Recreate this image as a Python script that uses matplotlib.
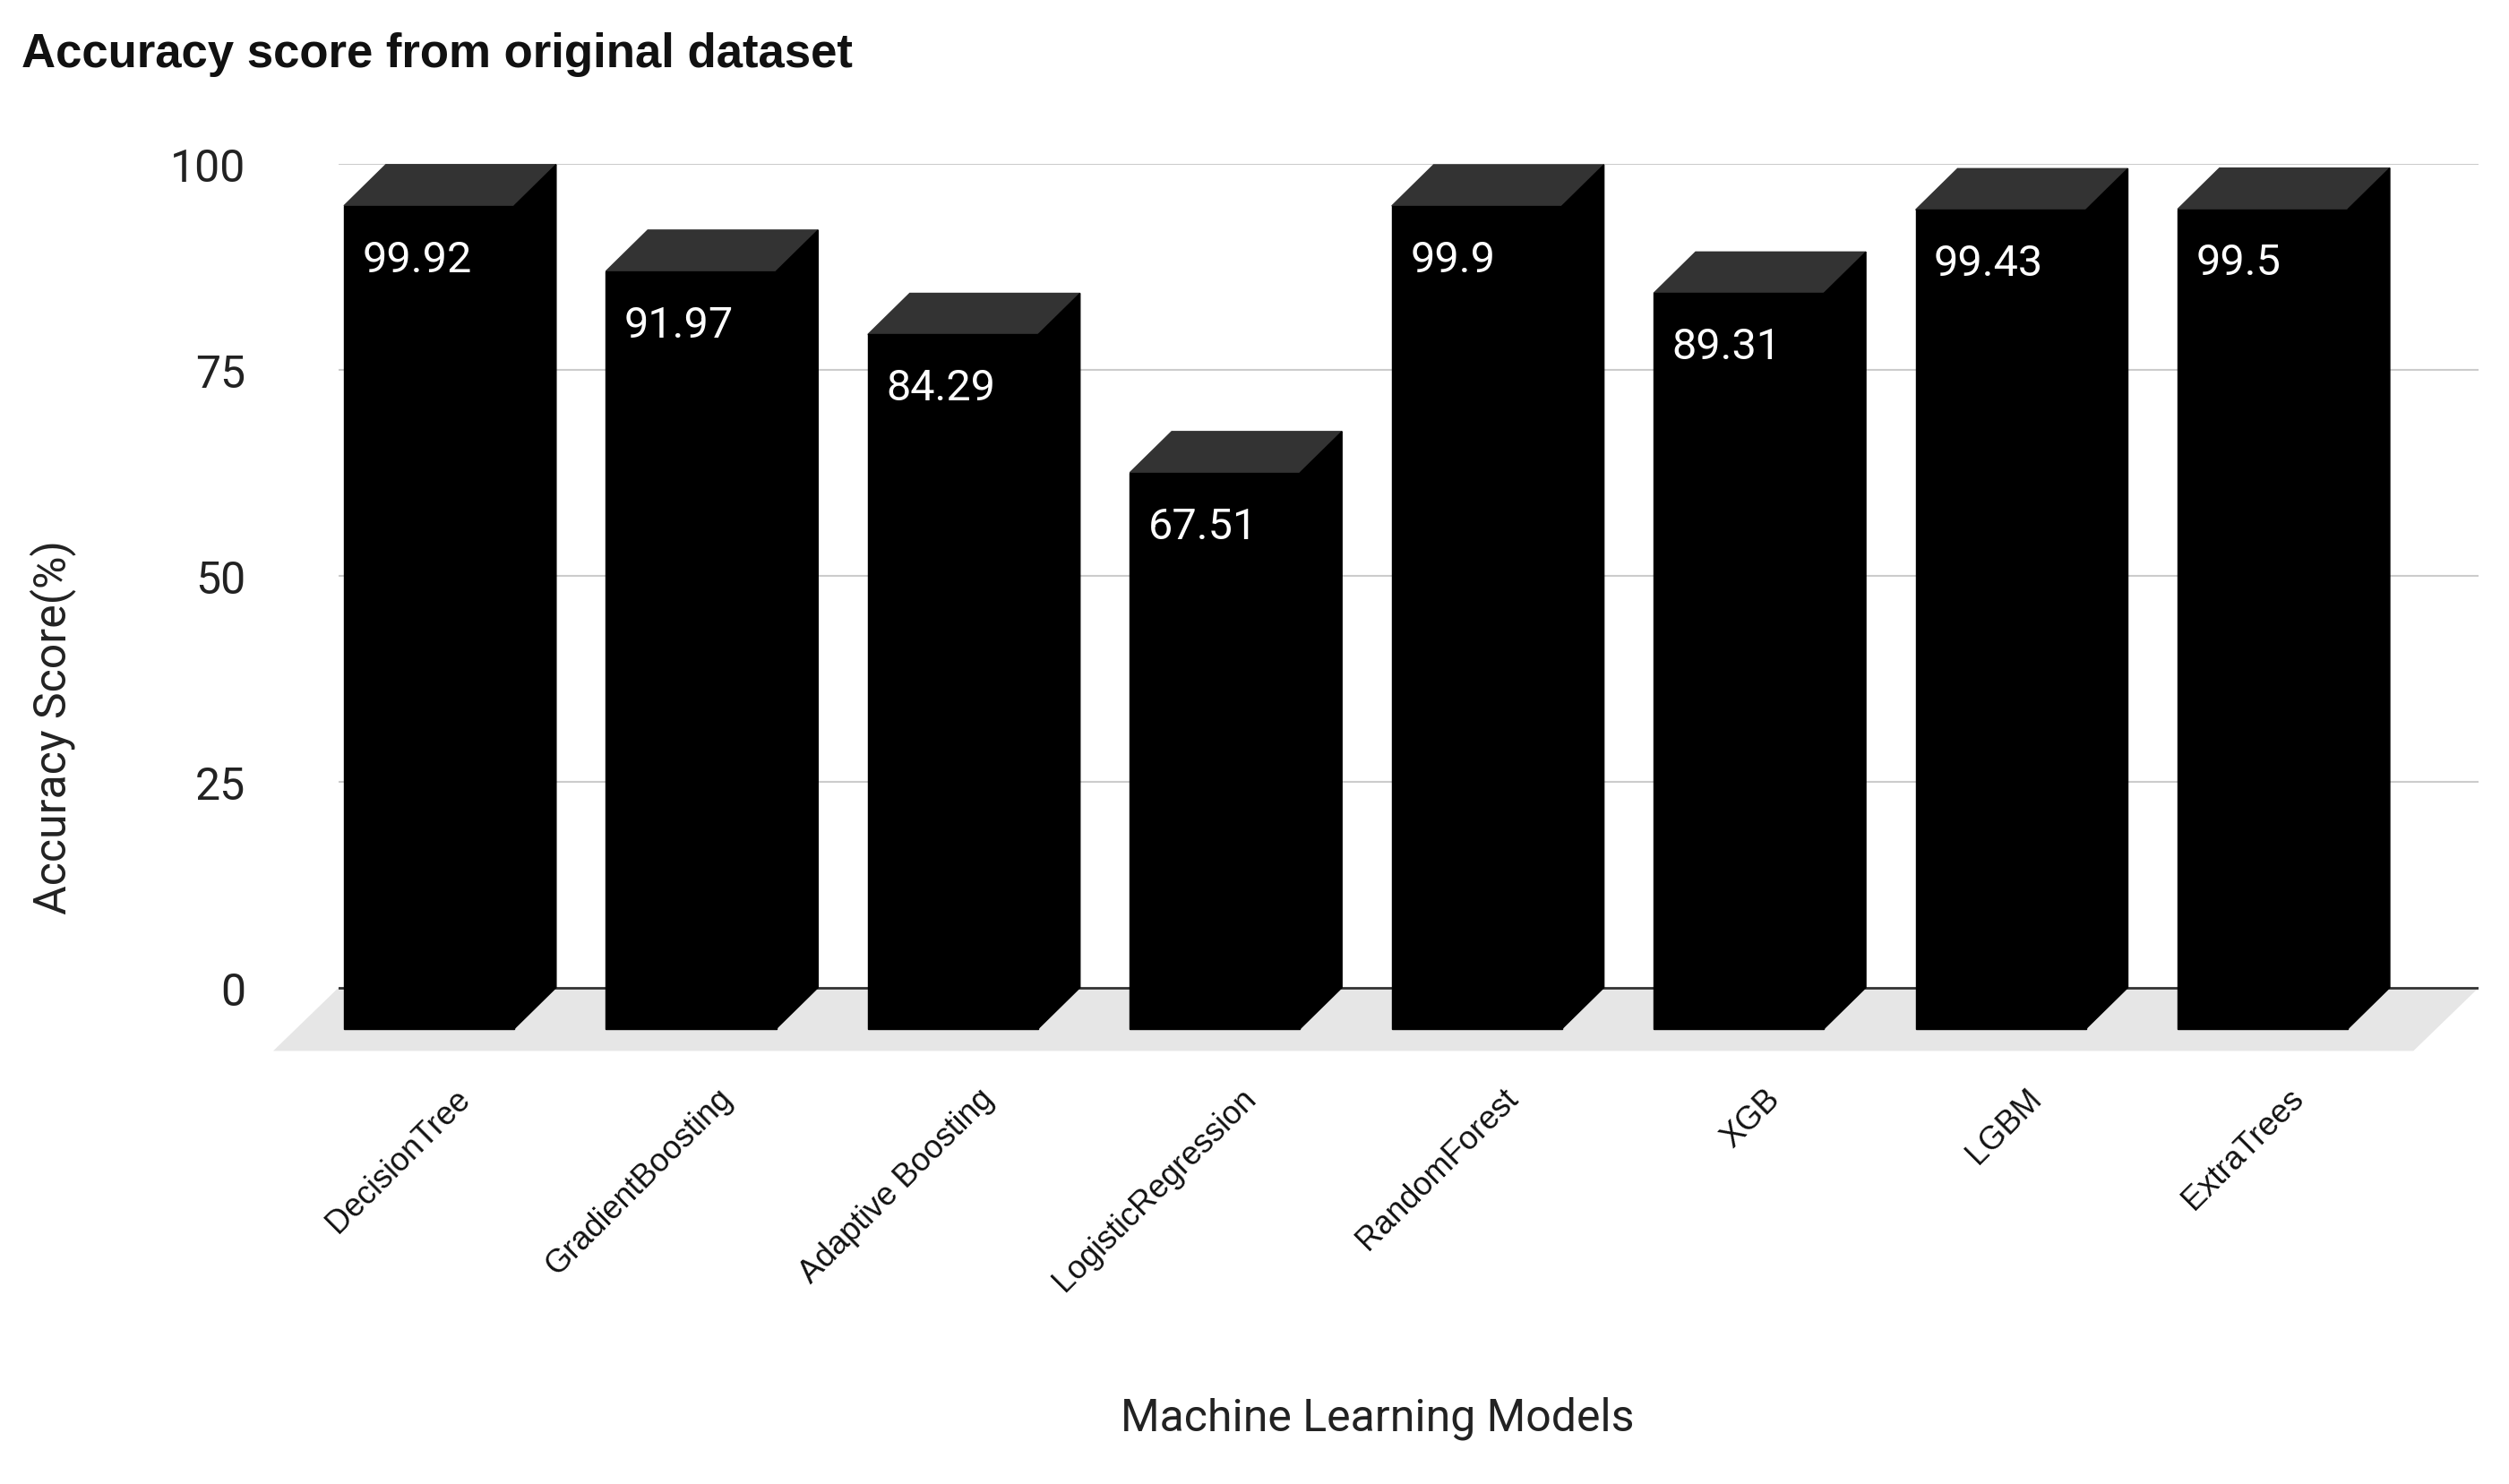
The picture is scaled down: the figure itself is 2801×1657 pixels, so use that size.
import matplotlib
matplotlib.use("Agg")
import matplotlib.pyplot as plt
from matplotlib.patches import Polygon, Rectangle

models = ["DecisionTree", "GradientBoosting", "Adaptive Boosting", "LogisticRegression",
          "RandomForest", "XGB", "LGBM", "ExtraTrees"]
scores = [99.92, 91.97, 84.29, 67.51, 99.9, 89.31, 99.43, 99.5]
labels = ["99.92", "91.97", "84.29", "67.51", "99.9", "89.31", "99.43", "99.5"]
yticks = [0, 25, 50, 75, 100]

fig = plt.figure(figsize=(28.01, 16.58), dpi=100)
ax = fig.add_axes([0.135, 0.290, 0.853, 0.599])
ax.set_xlim(-0.02, 8.15)
ax.set_ylim(-8, 100)

w, dx, dy = 0.65, 0.16, 5.0
# floor
ax.add_patch(Polygon([(-0.02, 0), (8.15, 0), (7.9, -7.7), (-0.27, -7.7)],
                     closed=True, facecolor="#e6e6e6", edgecolor="none", clip_on=False, zorder=1))
for y in yticks[1:]:
    ax.axhline(y, color="#cccccc", lw=1.5, zorder=0)
ax.axhline(0, color="#333333", lw=2, zorder=2)

for i, (v, lab) in enumerate(zip(scores, labels)):
    ax.add_patch(Polygon([(i, v - dy), (i + dx, v), (i + w + dx, v), (i + w, v - dy)],
                         closed=True, facecolor="#333333", edgecolor="#333333", zorder=3, clip_on=False))
    ax.add_patch(Polygon([(i + w, v - dy), (i + w + dx, v), (i + w + dx, 0), (i + w, -dy)],
                         closed=True, facecolor="black", edgecolor="black", zorder=3, clip_on=False))
    ax.add_patch(Rectangle((i, -dy), w, v, facecolor="black", edgecolor="black", zorder=4, clip_on=False))
    ax.text(i + 0.07, v - dy - 6.5, lab, color="white", fontsize=35, va="center", ha="left",
            family="Roboto", zorder=5)
    ax.text(i + 0.42, -11.5, models[i], rotation=45, rotation_mode="anchor", ha="right", va="top",
            fontsize=26, family="Liberation Sans", color="#111111")

ax.set_yticks(yticks)
ax.set_yticklabels([str(t) for t in yticks], fontsize=36, family="Roboto", color="#222222")
ax.tick_params(axis="y", length=0, pad=75)
ax.set_xticks([])
for s in ax.spines.values():
    s.set_visible(False)

fig.text(0.0085, 0.963, "Accuracy score from original dataset", fontsize=38, fontweight="bold",
         family="Liberation Sans", va="center", ha="left", color="#111111")
fig.text(0.549, 0.045, "Machine Learning Models", fontsize=36, family="Roboto", ha="center", va="center",
         color="#222222")
fig.text(0.021, 0.51, "Accuracy Score(%)", fontsize=36, family="Roboto", rotation=90, ha="center",
         va="center", color="#222222")

fig.savefig("out.png", dpi=100, facecolor="white")
